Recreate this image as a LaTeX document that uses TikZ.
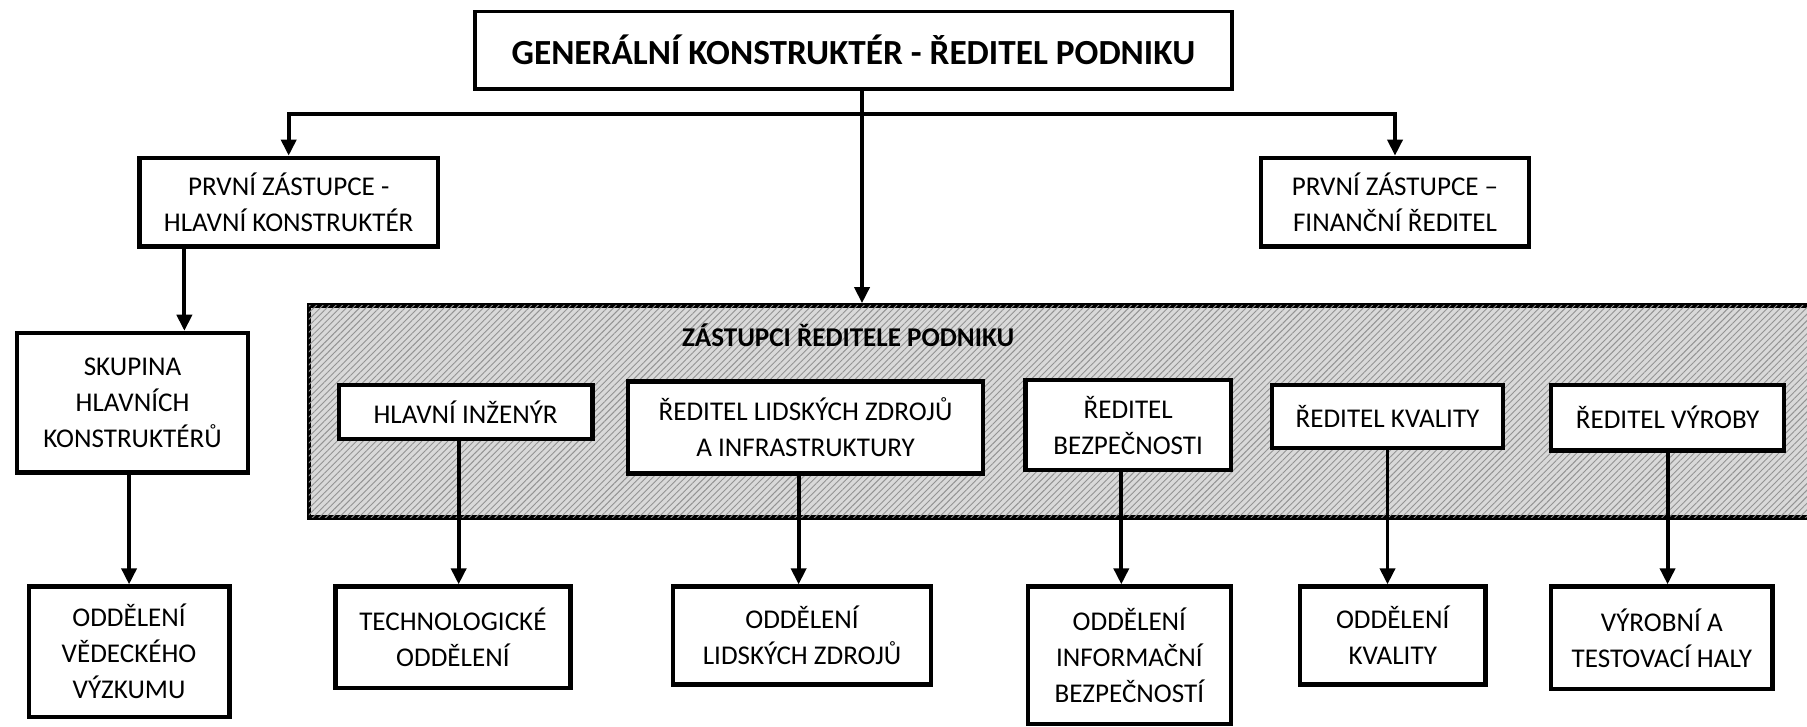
\documentclass[tikz,border=0pt]{standalone}
\usepackage{fontspec}
\setmainfont{Carlito}
\usetikzlibrary{arrows.meta,patterns.meta}
\begin{document}
\begin{tikzpicture}[x=0.5pt,y=-0.5pt,
  box/.style={draw=black,line width=1.9pt,fill=white,align=center,inner sep=2pt,
    font=\fontsize{11.75}{15.6}\selectfont},
  topbox/.style={draw=black,line width=1.6pt,fill=white,align=center,
    font=\fontsize{15.3}{18}\selectfont\bfseries},
  panelbox/.style={draw=black,line width=1.9pt,fill=gray!30,
    postaction={pattern={Lines[angle=45,distance=2pt,line width=0.4pt]},pattern color=gray!85}},
  link/.style={line width=1.7pt},
  arrowlink/.style={line width=1.7pt,-{Triangle[length=7pt,width=6.5pt]}}
]
\useasboundingbox (0,0) rectangle (1568,630);

% director and first deputies
\node[topbox,minimum width=328.5pt,minimum height=33.5pt] (top) at (740.5,43.5)
  {GENERÁLNÍ KONSTRUKTÉR - ŘEDITEL PODNIKU};
\node[box,minimum width=129.5pt,minimum height=38.5pt] (fzL) at (250.5,175.5)
  {PRVNÍ ZÁSTUPCE -\\HLAVNÍ KONSTRUKTÉR};
\node[box,minimum width=116.5pt,minimum height=38.5pt] (fzR) at (1210.5,175.5)
  {PRVNÍ ZÁSTUPCE –\\FINANČNÍ ŘEDITEL};

% group of chief designers
\node[box,minimum width=100pt,minimum height=60.5pt] (skup) at (115,349.5)
  {SKUPINA\\HLAVNÍCH\\KONSTRUKTÉRŮ};

% hatched panel of the deputies
\node[panelbox,minimum width=653.5pt,minimum height=92pt] (panel) at (921.5,357) {};
\node[font=\fontsize{11.75}{14}\selectfont\bfseries] (ptitle) at (736,291)
  {ZÁSTUPCI ŘEDITELE PODNIKU};

\node[box,minimum width=110pt,minimum height=23.5pt] (hi) at (404,357.5) {HLAVNÍ INŽENÝR};
\node[box,minimum width=154pt,minimum height=40pt] (rlz) at (699,371)
  {ŘEDITEL LIDSKÝCH ZDROJŮ\\A INFRASTRUKTURY};
\node[box,minimum width=89pt,minimum height=39pt] (rb) at (979,369)
  {ŘEDITEL\\BEZPEČNOSTI};
\node[box,minimum width=100pt,minimum height=27.5pt] (rk) at (1204,361.5) {ŘEDITEL KVALITY};
\node[box,minimum width=101pt,minimum height=28.5pt] (rv) at (1447,362.5) {ŘEDITEL VÝROBY};

% departments
\node[box,minimum width=87pt,minimum height=56.5pt] (ovv) at (112,565.5)
  {ODDĚLENÍ\\VĚDECKÉHO\\VÝZKUMU};
\node[box,minimum width=102pt,minimum height=44pt] (tech) at (393,553)
  {TECHNOLOGICKÉ\\ODDĚLENÍ};
\node[box,minimum width=112pt,minimum height=42.5pt] (olz) at (696,551.5)
  {ODDĚLENÍ\\LIDSKÝCH ZDROJŮ};
\node[box,minimum width=88pt,minimum height=59.5pt] (oib) at (980,568.5)
  {ODDĚLENÍ\\INFORMAČNÍ\\BEZPEČNOSTÍ};
\node[box,minimum width=80.5pt,minimum height=42.5pt] (okv) at (1208.5,551.5)
  {ODDĚLENÍ\\KVALITY};
\node[box,minimum width=96pt,minimum height=44.5pt] (vth) at (1442,553.5)
  {VÝROBNÍ A\\TESTOVACÍ HALY};

% connectors
\coordinate (hub) at (748,99);
\coordinate (cL) at (160,0);
\draw[link] (top.south -| hub) -- (hub);
\draw[arrowlink] (hub) -- (hub |- panel.north);
\draw[arrowlink] (hub) -| (fzL.north);
\draw[arrowlink] (hub) -| (fzR.north);
\draw[arrowlink] (fzL.south -| cL) -- (cL |- skup.north);
\draw[arrowlink] (skup.south -| ovv) -- (ovv.north);
\draw[arrowlink] ([xshift=-3pt]hi.south) -- ([xshift=-3pt]hi.south |- tech.north);
\draw[arrowlink] ([xshift=-3pt]rlz.south) -- ([xshift=-3pt]rlz.south |- olz.north);
\draw[arrowlink] ([xshift=-3pt]rb.south) -- ([xshift=-3pt]rb.south |- oib.north);
\draw[arrowlink] (rk.south) -- (rk.south |- okv.north);
\draw[arrowlink] (rv.south) -- (rv.south |- vth.north);
\end{tikzpicture}
\end{document}
